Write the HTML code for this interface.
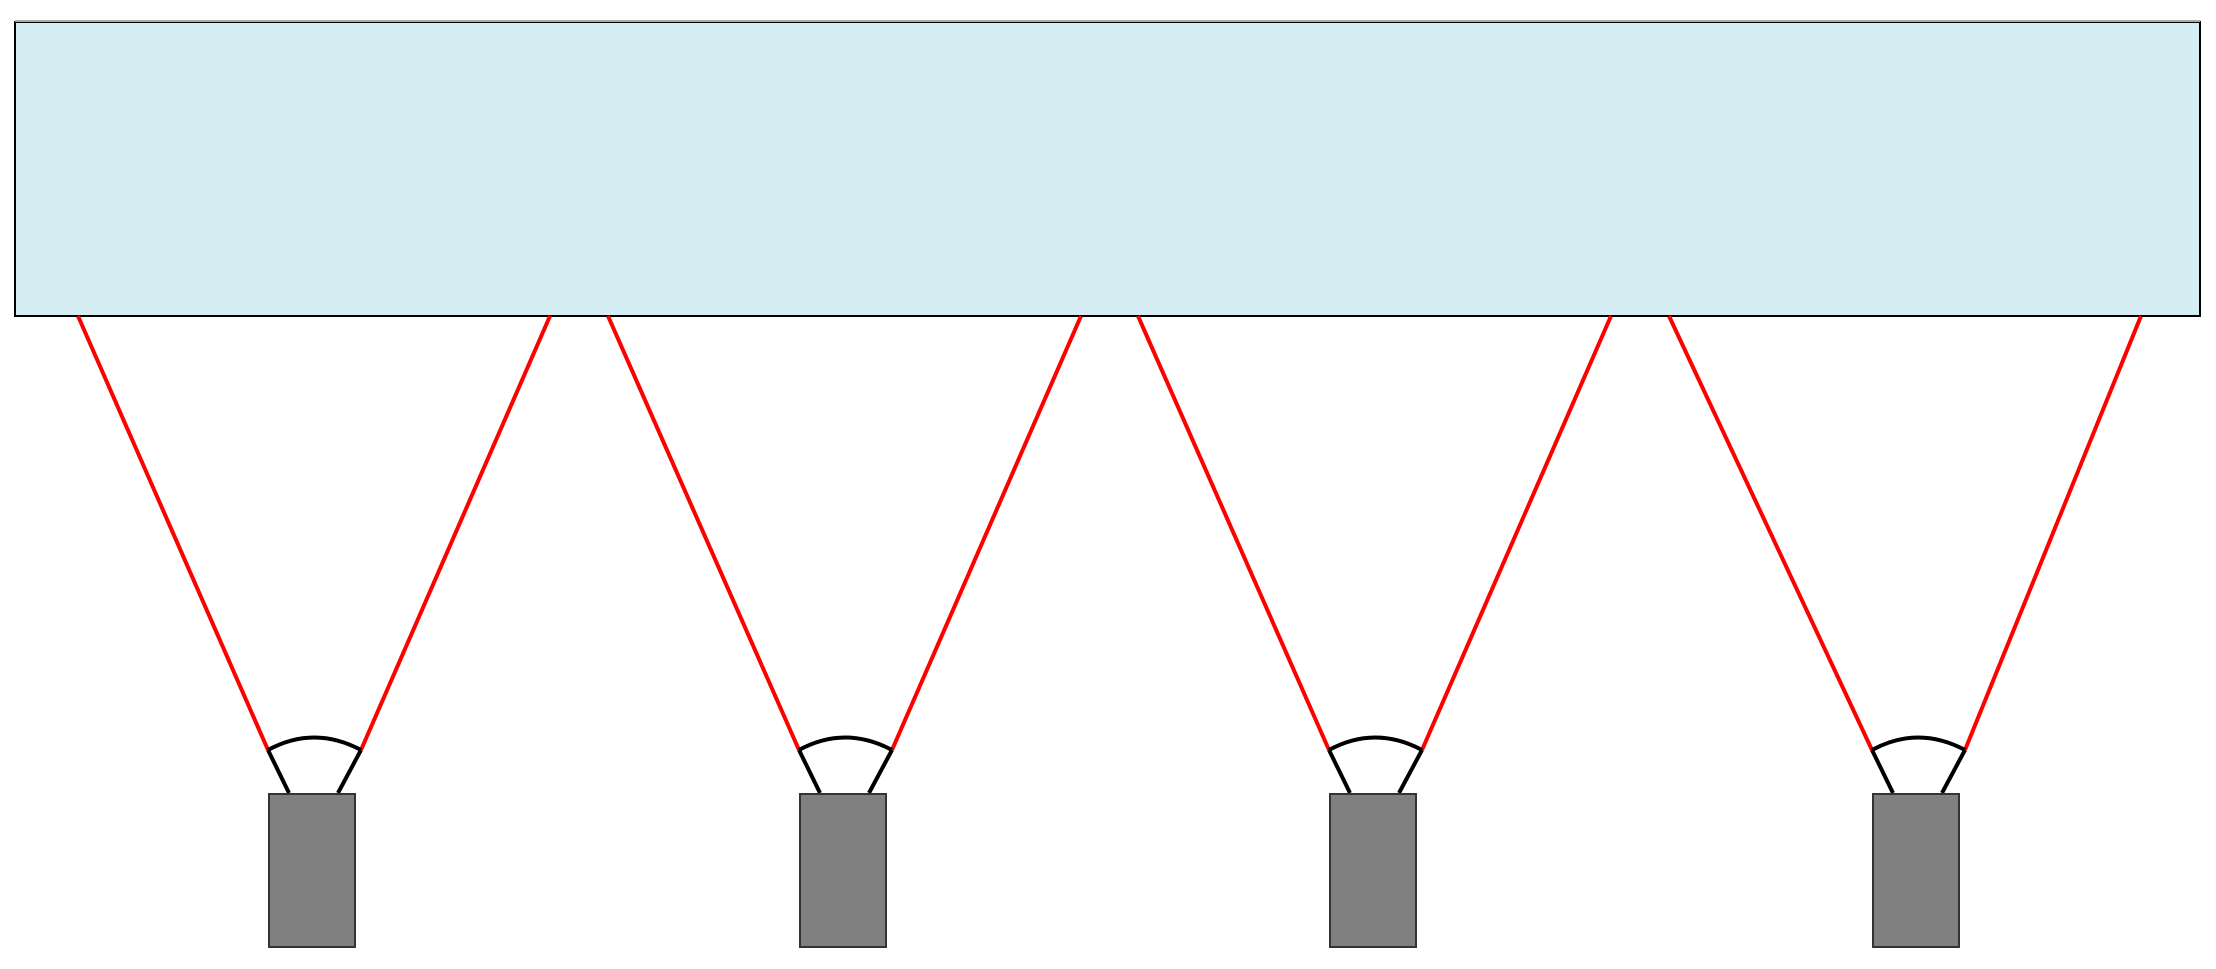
<!DOCTYPE html>
<html><head><style>html,body{margin:0;padding:0;background:#fff}svg{display:block}</style></head>
<body>
<svg width="2216" height="969" viewBox="0 0 2216 969" xmlns="http://www.w3.org/2000/svg">
<rect x="15" y="22" width="2185" height="294" fill="#d5eef3" stroke="#000" stroke-width="2"/>
<line x1="15" y1="21" x2="2200" y2="21" stroke="#aaa" stroke-width="2"/>
<g stroke="#ff0000" stroke-width="4" fill="none">
<line x1="78" y1="316" x2="268" y2="750"/><line x1="550" y1="316" x2="361" y2="750"/>
<line x1="608" y1="316" x2="799" y2="750"/><line x1="1081" y1="316" x2="892" y2="750"/>
<line x1="1138" y1="316" x2="1329" y2="750"/><line x1="1611" y1="316" x2="1422" y2="750"/>
<line x1="1669" y1="316" x2="1872" y2="750"/><line x1="2141" y1="316" x2="1965" y2="750"/>
</g>
<g id="c1" transform="translate(268,0)">
<path d="M0,750 Q46,725 93,750" stroke="#000" stroke-width="4" fill="none"/>
<line x1="0" y1="750" x2="21" y2="793" stroke="#000" stroke-width="4"/>
<line x1="93" y1="750" x2="70" y2="793" stroke="#000" stroke-width="4"/>
<rect x="1" y="794" width="86" height="153" fill="#808080" stroke="#333" stroke-width="2"/>
</g>
<use href="#c1" x="531"/>
<use href="#c1" x="1061"/>
<use href="#c1" x="1604"/>
</svg>
</body></html>
